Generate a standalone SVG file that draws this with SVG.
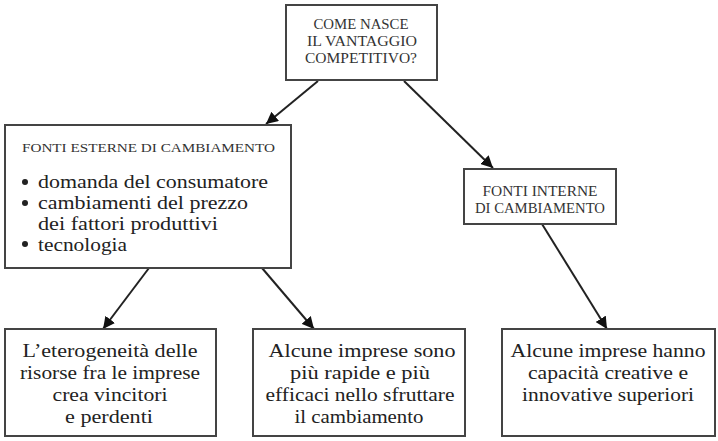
<svg xmlns="http://www.w3.org/2000/svg" width="718" height="441" viewBox="0 0 718 441">
<style>
.box{fill:#fff;stroke:#444;stroke-width:2}
.cap{font-family:"Liberation Serif",serif;font-size:14px;fill:#333;text-anchor:middle}
.capl{font-family:"Liberation Serif",serif;font-size:13.5px;fill:#333}
.t{font-family:"Liberation Serif",serif;font-size:19.5px;fill:#222;text-anchor:middle}
.tl{font-family:"Liberation Serif",serif;font-size:19.5px;fill:#222}
.edge{stroke:#222;stroke-width:2;fill:none;marker-end:url(#ah)}
</style>
<defs>
<marker id="ah" viewBox="0 0 10 10" refX="10" refY="5" markerWidth="6" markerHeight="6" markerUnits="strokeWidth" orient="auto">
<path d="M0,0 L10,5 L0,10 z" fill="#111"/>
</marker>
</defs>
<rect width="718" height="441" fill="#fff"/>
<g id="connectors">
<line class="edge" x1="318" y1="81" x2="266" y2="124"/>
<line class="edge" x1="404" y1="81" x2="493" y2="168"/>
<line class="edge" x1="149" y1="268" x2="103" y2="329"/>
<line class="edge" x1="262" y1="268" x2="314" y2="329"/>
<line class="edge" x1="542" y1="224" x2="607" y2="329"/>
</g>
<g id="n_top">
<rect class="box" x="286" y="5" width="151" height="75"/>
<text class="cap" x="361" y="29" textLength="95" lengthAdjust="spacingAndGlyphs">COME NASCE</text>
<text class="cap" x="362" y="46" textLength="110" lengthAdjust="spacingAndGlyphs">IL VANTAGGIO</text>
<text class="cap" x="361" y="63" textLength="112" lengthAdjust="spacingAndGlyphs">COMPETITIVO?</text>
</g>
<g id="n_esterne">
<rect class="box" x="5" y="125" width="286" height="143"/>
<text class="capl" x="22" y="152" textLength="253" lengthAdjust="spacingAndGlyphs">FONTI ESTERNE DI CAMBIAMENTO</text>
<circle cx="25" cy="182" r="3" fill="#222"/>
<circle cx="25" cy="203" r="3" fill="#222"/>
<circle cx="25" cy="244" r="3" fill="#222"/>
<text class="tl" x="38" y="188" textLength="230" lengthAdjust="spacingAndGlyphs">domanda del consumatore</text>
<text class="tl" x="38" y="209" textLength="210" lengthAdjust="spacingAndGlyphs">cambiamenti del prezzo</text>
<text class="tl" x="38" y="230" textLength="180" lengthAdjust="spacingAndGlyphs">dei fattori produttivi</text>
<text class="tl" x="38" y="251" textLength="89" lengthAdjust="spacingAndGlyphs">tecnologia</text>
</g>
<g id="n_interne">
<rect class="box" x="464" y="169" width="152" height="55"/>
<text class="cap" x="540" y="196" textLength="115" lengthAdjust="spacingAndGlyphs">FONTI INTERNE</text>
<text class="cap" x="540" y="213" textLength="130" lengthAdjust="spacingAndGlyphs">DI CAMBIAMENTO</text>
</g>
<g id="n_eterogeneita">
<rect class="box" x="5" y="329" width="211" height="107"/>
<text class="t" x="110" y="357" textLength="175" lengthAdjust="spacingAndGlyphs">L’eterogeneità delle</text>
<text class="t" x="110" y="379" textLength="180" lengthAdjust="spacingAndGlyphs">risorse fra le imprese</text>
<text class="t" x="110" y="401" textLength="115" lengthAdjust="spacingAndGlyphs">crea vincitori</text>
<text class="t" x="109" y="423" textLength="88" lengthAdjust="spacingAndGlyphs">e perdenti</text>
</g>
<g id="n_rapide">
<rect class="box" x="253" y="329" width="212" height="107"/>
<text class="t" x="362" y="357" textLength="187" lengthAdjust="spacingAndGlyphs">Alcune imprese sono</text>
<text class="t" x="360" y="379" textLength="140" lengthAdjust="spacingAndGlyphs">più rapide e più</text>
<text class="t" x="360" y="401" textLength="189" lengthAdjust="spacingAndGlyphs">efficaci nello sfruttare</text>
<text class="t" x="359" y="423" textLength="129" lengthAdjust="spacingAndGlyphs">il cambiamento</text>
</g>
<g id="n_creative">
<rect class="box" x="502" y="329" width="213" height="107"/>
<text class="t" x="608" y="357" textLength="195" lengthAdjust="spacingAndGlyphs">Alcune imprese hanno</text>
<text class="t" x="608" y="379" textLength="160" lengthAdjust="spacingAndGlyphs">capacità creative e</text>
<text class="t" x="608" y="401" textLength="172" lengthAdjust="spacingAndGlyphs">innovative superiori</text>
</g>
</svg>
